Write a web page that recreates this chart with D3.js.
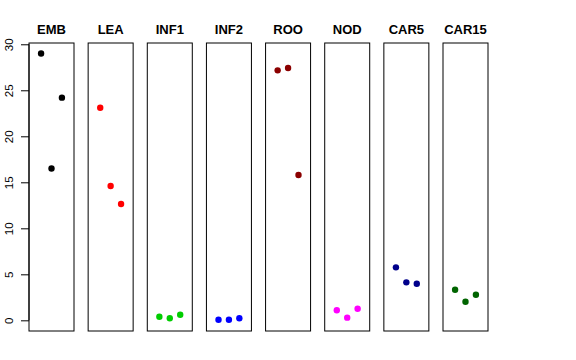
<!DOCTYPE html>
<html><head><meta charset="utf-8">
<script src="https://cdn.jsdelivr.net/npm/d3@7/dist/d3.min.js"></script>
<style>body{margin:0;background:#fff;}svg{display:block;font-family:"Liberation Sans",Arial,Helvetica,sans-serif;}</style>
</head><body>
<script>
const categories = ["EMB","LEA","INF1","INF2","ROO","NOD","CAR5","CAR15"];
const colors = ["#000000","#FF0000","#00CD00","#0000FF","#8B0000","#FF00FF","#00008B","#006400"];
const series = [
  [29.0, 16.5, 24.2],
  [23.1, 14.6, 12.64],
  [0.39, 0.22, 0.61],
  [0.07, 0.07, 0.22],
  [27.17, 27.42, 15.79],
  [1.09, 0.29, 1.26],
  [5.76, 4.13, 3.98],
  [3.33, 2.02, 2.78]
];
const yTicks = [0,5,10,15,20,25,30];

const W = 576, H = 360;
const svg = d3.select("body").append("svg").attr("width",W).attr("height",H);

const plotTop = 43, plotBottom = 331;
const y = d3.scaleLinear().domain([-1.16, 30.14]).range([plotBottom, plotTop]);
const panelX = d3.scaleLinear().domain([0,7]).range([29, 443]);
const panelW = 45;

categories.forEach((cat,i)=>{
  const x0 = panelX(i);
  const x = d3.scaleLinear().domain([-0.16, 4.16]).range([x0, x0+panelW]);
  const g = svg.append("g");
  g.append("rect").attr("x",x0).attr("y",plotTop).attr("width",panelW).attr("height",plotBottom-plotTop)
    .attr("fill","none").attr("stroke","#000").attr("stroke-width",1);
  g.selectAll("circle").data(series[i]).join("circle")
    .attr("cx",(d,j)=>x(j+1)).attr("cy",d=>y(d)).attr("r",3.2).attr("fill",colors[i]);
  g.append("text").attr("x",x0+panelW/2).attr("y",34).attr("text-anchor","middle")
    .attr("font-weight","bold").attr("font-size","13px").text(cat);
});

const axis = d3.axisLeft(y).tickValues(yTicks).tickSize(8).tickPadding(4).tickFormat(d3.format("d"));
const ag = svg.append("g").attr("transform","translate(29,0)").call(axis);
ag.select(".domain").remove();
ag.selectAll(".tick line").attr("stroke","#000");
ag.selectAll(".tick text").attr("font-size","11.5px").attr("fill","#000")
  .attr("font-family","Liberation Sans, Arial, sans-serif")
  .attr("x",0).attr("y",0).attr("dy","0")
  .attr("transform","translate(-16,0) rotate(-90)")
  .attr("text-anchor","middle");
ag.append("line").attr("x1",0).attr("x2",0).attr("y1",y(0)).attr("y2",y(30)).attr("stroke","#000");
</script>
</body></html>
